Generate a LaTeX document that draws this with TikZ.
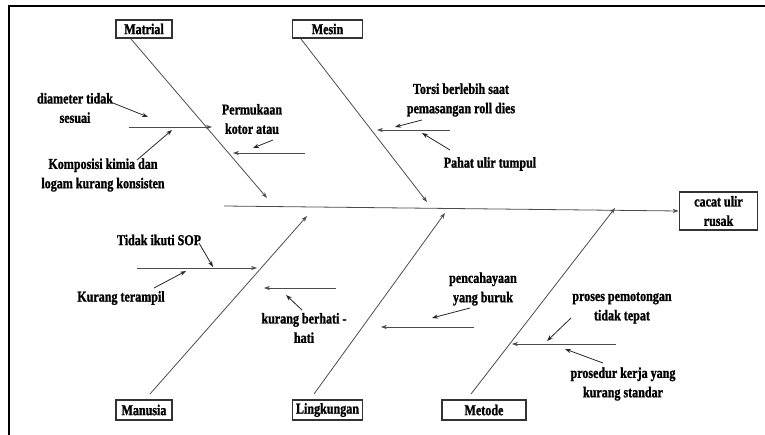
\documentclass[tikz,border=0pt]{standalone}
\usepackage{fontspec}
\newfontfamily\labfont{Liberation Serif}[UprightFont={Liberation Serif Bold}, FakeStretch=0.8, FakeBold=1.2]
\usetikzlibrary{arrows.meta}
\begin{document}
\begin{tikzpicture}[x=0.75pt,y=-0.75pt,
  txt/.style={font=\labfont\fontsize{11.3}{14.5}\selectfont},
  lbl/.style={txt, align=center, inner sep=0pt},
  catbox/.style={txt, draw=black!80, line width=0.8pt, fill=white, inner sep=0pt, align=center},
  bone/.style={draw=black!70, line width=0.6pt, -{Stealth[length=4.5pt,width=3.2pt]}},
  pointer/.style={draw=black!85, line width=0.6pt, -{Stealth[length=4.5pt,width=3.2pt]}},
  frame/.style={draw=black, line width=1.6pt}
]
\useasboundingbox (0,0) rectangle (765,435);

% page frame (top and left edges)
\coordinate (fa) at (9,435);
\coordinate (fb) at (9,6);
\coordinate (fc) at (765,6);
\draw[frame] (fa) -- (fb) -- (fc);

% category boxes and effect box
\node[catbox, minimum width=42pt, minimum height=13.5pt] (matrial) at (144,29) {Matrial};
\node[catbox, minimum width=53pt, minimum height=13.5pt] (mesin) at (327.5,29) {Mesin};
\node[catbox, minimum width=42pt, minimum height=15pt] (manusia) at (144,410) {Manusia};
\node[catbox, minimum width=53pt, minimum height=15pt] (lingkungan) at (327.5,410) {Lingkungan};
\node[catbox, minimum width=63pt, minimum height=15pt] (metode) at (484,410) {Metode};
\node[catbox, minimum width=59pt, minimum height=28.5pt] (effect) at (718.5,211) {cacat ulir\\rusak};

% spine
\coordinate (spineTail) at (224,206);
\draw[bone] (spineTail) -- (effect.west);

% main bones
\coordinate (matA) at (131,39);   \coordinate (matB) at (267,198);
\coordinate (mesA) at (301,39);   \coordinate (mesB) at (427,202);
\coordinate (manA) at (150,394);  \coordinate (manB) at (307,216);
\coordinate (linA) at (314,394);  \coordinate (linB) at (445,213);
\coordinate (metA) at (471,394);  \coordinate (metB) at (615,208);
\draw[bone] (matA) -- (matB);
\draw[bone] (mesA) -- (mesB);
\draw[bone] (manA) -- (manB);
\draw[bone] (linA) -- (linB);
\draw[bone] (metA) -- (metB);

% Matrial causes
\coordinate (ma1) at (129,127); \coordinate (mb1) at (212,127);
\draw[bone] (ma1) -- (mb1);
\coordinate (ma2) at (305,153); \coordinate (mb2) at (233,153);
\draw[bone] (ma2) -- (mb2);
\node[lbl] (diam) at (75,108) {diameter tidak\\sesuai};
\node[lbl] (komp) at (103,175) {Komposisi kimia dan\\logam kurang konsisten};
\node[lbl] (perm) at (252,119) {Permukaan\\kotor atau};
\coordinate (pd1) at (113,103); \coordinate (pd2) at (148,117);
\draw[pointer] (pd1) -- (pd2);
\coordinate (pk1) at (137,160); \coordinate (pk2) at (172,130);
\draw[pointer] (pk1) -- (pk2);
\coordinate (pp1) at (273,140); \coordinate (pp2) at (253,148);
\draw[pointer] (pp1) -- (pp2);

% Mesin causes
\coordinate (sa1) at (450,130); \coordinate (sb1) at (377,130);
\draw[bone] (sa1) -- (sb1);
\node[lbl] (torsi) at (461,100) {Torsi berlebih saat\\pemasangan roll dies};
\node[lbl] (pahat) at (490,164) {Pahat ulir tumpul};
\coordinate (pt1) at (422,120); \coordinate (pt2) at (395,127);
\draw[pointer] (pt1) -- (pt2);
\coordinate (ph1) at (450,150); \coordinate (ph2) at (422,133);
\draw[pointer] (ph1) -- (ph2);

% Manusia causes
\coordinate (na1) at (137,268); \coordinate (nb1) at (257,268);
\draw[bone] (na1) -- (nb1);
\coordinate (na2) at (336,288); \coordinate (nb2) at (264,288);
\draw[bone] (na2) -- (nb2);
\node[lbl] (sop) at (159,240) {Tidak ikuti SOP};
\node[lbl] (teram) at (121,298) {Kurang terampil};
\node[lbl] (hati) at (304,328) {kurang berhati -\\hati};
\coordinate (ps1) at (199,243); \coordinate (ps2) at (213,267);
\draw[pointer] (ps1) -- (ps2);
\coordinate (pr1) at (154,288); \coordinate (pr2) at (186,271);
\draw[pointer] (pr1) -- (pr2);
\coordinate (pb1) at (302,310); \coordinate (pb2) at (286,295);
\draw[pointer] (pb1) -- (pb2);

% Lingkungan cause
\coordinate (la1) at (474,327); \coordinate (lb1) at (381,327);
\draw[bone] (la1) -- (lb1);
\node[lbl] (cahaya) at (483,289) {pencahayaan\\yang buruk};
\coordinate (pc1) at (470,308); \coordinate (pc2) at (432,318);
\draw[pointer] (pc1) -- (pc2);

% Metode cause
\coordinate (ta1) at (616,344); \coordinate (tb1) at (512,344);
\draw[bone] (ta1) -- (tb1);
\node[lbl] (proses) at (622,308) {proses pemotongan\\tidak tepat};
\node[lbl] (prosedur) at (623,384) {prosedur kerja yang\\kurang standar};
\coordinate (po1) at (571,318); \coordinate (po2) at (547,341);
\draw[pointer] (po1) -- (po2);
\coordinate (pq1) at (603,363); \coordinate (pq2) at (565,349);
\draw[pointer] (pq1) -- (pq2);
\end{tikzpicture}
\end{document}
